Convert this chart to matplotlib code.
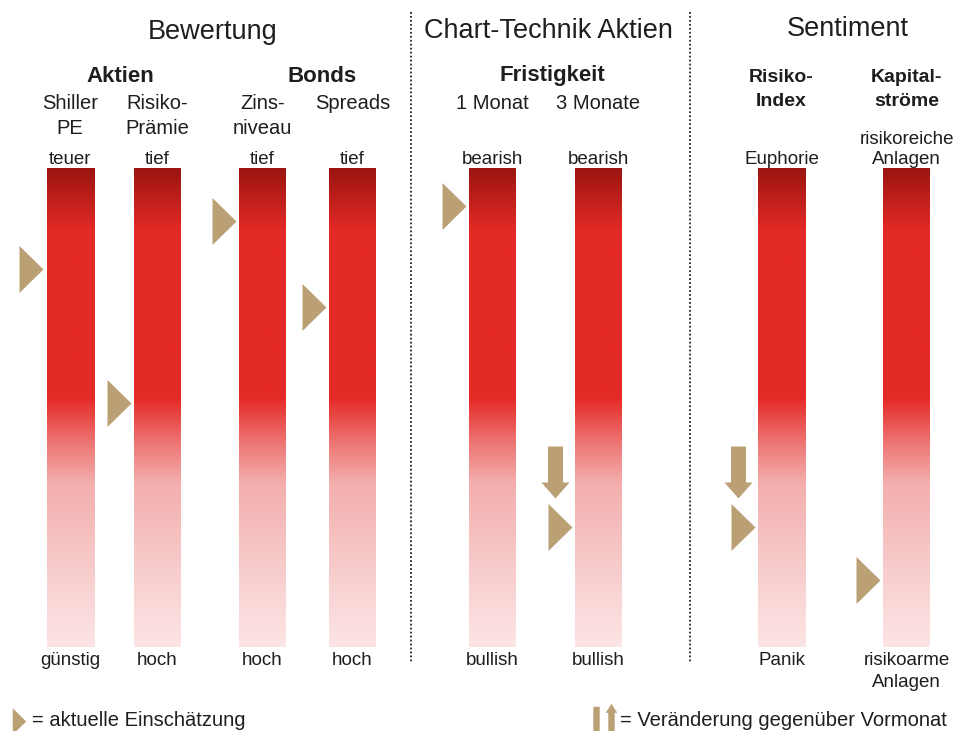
import matplotlib
matplotlib.use('Agg')
import matplotlib.pyplot as plt
from matplotlib.colors import LinearSegmentedColormap
from matplotlib.path import Path
import numpy as np

plt.rcParams['font.family'] = ['Liberation Sans', 'DejaVu Sans']

# --- data ---
groups = ['Bewertung', 'Chart-Technik Aktien', 'Sentiment']
subgroups = ['Aktien', 'Bonds', 'Fristigkeit']
indicators = ['Shiller\nPE', 'Risiko-\nPrämie', 'Zins-\nniveau', 'Spreads',
              '1 Monat', '3 Monate', 'Risiko-\nIndex', 'Kapital-\nströme']
top_labels = ['teuer', 'tief', 'tief', 'tief', 'bearish', 'bearish',
              'Euphorie', 'risikoreiche\nAnlagen']
bottom_labels = ['günstig', 'hoch', 'hoch', 'hoch', 'bullish', 'bullish',
                 'Panik', 'risikoarme\nAnlagen']
# position of current assessment along the bar (0 = top, 1 = bottom)
levels = [0.21, 0.49, 0.11, 0.29, 0.08, 0.75, 0.75, 0.86]
# change vs previous month (-1 = moved down, 0 = unchanged)
changes = [0, 0, 0, 0, 0, -1, -1, 0]
legend_texts = ['= aktuelle Einschätzung', '= Veränderung gegenüber Vormonat']

# --- layout (pixel space) ---
bar_x = [70, 157.5, 262.5, 352.5, 492.5, 598.5, 781.5, 906.5]
bar_w = 47
bar_top, bar_bot = 168, 647
group_x = [213, 548, 848]
group_y = [32, 31, 29]
sub_x = [120, 322, 552]
sep_x = [411, 690]
bold_names = [False] * 6 + [True] * 2

txt = '#1e1e1e'
tan = '#baa074'

cmap = LinearSegmentedColormap.from_list('bar', [
    (0.0, '#9b1511'),
    (0.13, '#e42a26'),
    (0.48, '#e42a26'),
    (0.58, '#ee7a78'),
    (0.66, '#f3afae'),
    (0.82, '#f7c9c9'),
    (1.0, '#fde5e5'),
])

tri_marker = Path([(-12, -23.5), (12, 0), (-12, 23.5), (-12, -23.5)],
                  [Path.MOVETO, Path.LINETO, Path.LINETO, Path.CLOSEPOLY])
down_verts = [(-7.5, 26), (7.5, 26), (7.5, -10), (14, -10), (0, -26),
              (-14, -10), (-7.5, -10), (-7.5, 26)]
down_marker = Path(down_verts)
up_marker = Path([(x, -y) for x, y in down_verts])
# slimmer arrows for the legend
leg_verts = [(-5, 26), (5, 26), (5, -12), (9, -12), (0, -26),
             (-9, -12), (-5, -12), (-5, 26)]
leg_down = Path(leg_verts)
leg_up = Path([(x, -y) for x, y in leg_verts])

fig = plt.figure(figsize=(9.72, 7.31), dpi=100)
ax = fig.add_axes([0, 0, 1, 1])
ax.set_xlim(0, 972)
ax.set_ylim(731, 0)
ax.axis('off')

grad = np.linspace(0, 1, 256).reshape(-1, 1)
for i, x in enumerate(bar_x):
    ax.imshow(grad, cmap=cmap, aspect='auto',
              extent=(x - bar_w / 2, x + bar_w / 2, bar_bot, bar_top))
    # labels
    if bold_names[i]:
        ax.text(x, 69, indicators[i], ha='center', va='top', fontsize=14,
                fontweight='bold', color=txt, linespacing=1.5)
    else:
        ax.text(x, 94, indicators[i], ha='center', va='top', fontsize=14.5,
                color=txt, linespacing=1.4)
    ax.text(x, 168, top_labels[i], ha='center', va='bottom', fontsize=13.5,
            color=txt, linespacing=1.25)
    ax.text(x, 652, bottom_labels[i], ha='center', va='top', fontsize=13.5,
            color=txt, linespacing=1.4)

    # current assessment marker
    y = bar_top + levels[i] * (bar_bot - bar_top)
    left = x - bar_w / 2
    ax.plot(left - 15.5, y, marker=tri_marker, markersize=33.8, color=tan,
            markeredgewidth=0, linestyle='none')
    if changes[i] != 0:
        mk = down_marker if changes[i] < 0 else up_marker
        ax.plot(left - 20, y - 55, marker=mk, markersize=37.4, color=tan,
                markeredgewidth=0, linestyle='none')

for gx, gy, g in zip(group_x, group_y, groups):
    ax.text(gx, gy, g, ha='center', va='center', fontsize=19.5, color=txt)
for sx, s in zip(sub_x, subgroups):
    ax.text(sx, 76, s, ha='center', va='center', fontsize=16,
            fontweight='bold', color=txt)

for sx in sep_x:
    ax.plot([sx, sx], [12, 662], color='#222222', lw=1.3,
            linestyle=(0, (1, 1.2)))

# legend
ax.plot(19, 721, marker=tri_marker, markersize=19, color=tan,
        markeredgewidth=0, linestyle='none', clip_on=False)
ax.text(32, 721, legend_texts[0], ha='left', va='center', fontsize=14.5,
        color=txt)
ax.plot(596, 723, marker=leg_down, markersize=24, color=tan,
        markeredgewidth=0, linestyle='none', clip_on=False)
ax.plot(610.5, 720, marker=leg_up, markersize=24, color=tan,
        markeredgewidth=0, linestyle='none', clip_on=False)
ax.text(620, 721, legend_texts[1], ha='left', va='center', fontsize=14.5,
        color=txt)

fig.savefig('out.png', dpi=100)
